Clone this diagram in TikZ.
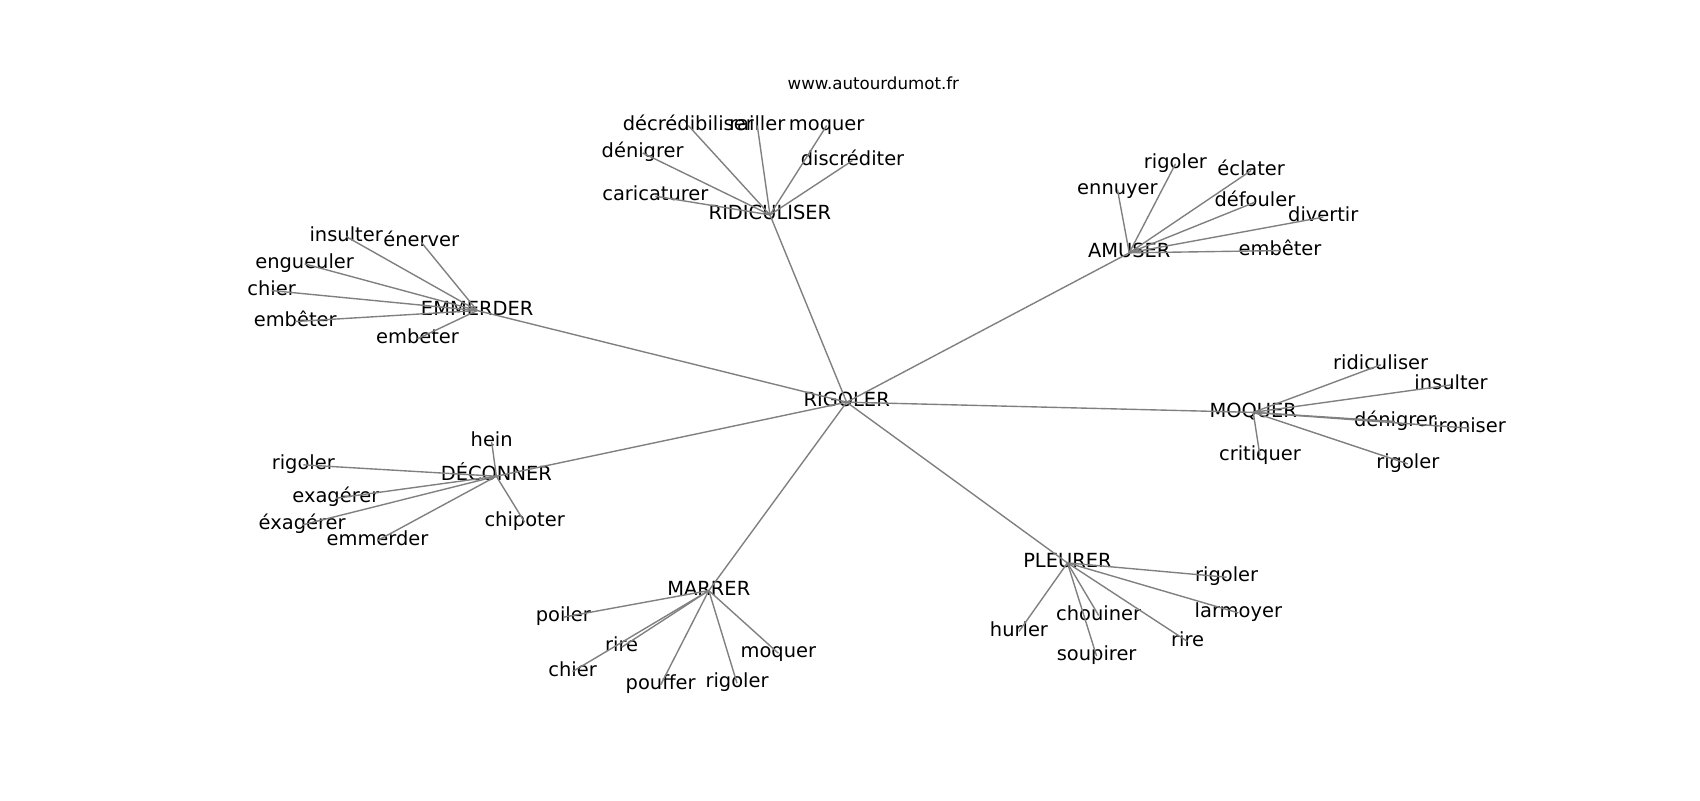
\documentclass[tikz,border=0pt]{standalone}
\usepackage{fontspec}
\setmainfont{DejaVu Sans}
\begin{document}
\begin{tikzpicture}[x=0.7808pt,y=-0.7808pt,
  lbl/.style={inner sep=0pt,anchor=center,text height=10pt,text depth=3.22pt,yshift=-1.6pt,font=\fontsize{14}{16}\selectfont},
  ttl/.style={inner sep=0pt,anchor=center,font=\fontsize{12}{14}\selectfont},
  edge/.style={draw=black!50,line width=1pt}]
\useasboundingbox[fill=white] (0,0) rectangle (1567.6,737.7);
\node[ttl] (title) at (805.3,76.8) {www.autourdumot.fr};
% hubs
\node[lbl] (rig) at (780.7,368.8) {RIGOLER};
\node[lbl] (rid) at (710,196.1) {RIDICULISER};
\node[lbl] (emm) at (440,284.3) {EMMERDER};
\node[lbl] (amu) at (1041.3,231.1) {AMUSER};
\node[lbl] (moq) at (1155.6,378.2) {MOQUER};
\node[lbl] (dec) at (457.7,437.1) {DÉCONNER};
\node[lbl] (mar) at (653.6,542.5) {MARRER};
\node[lbl] (ple) at (984.3,517) {PLEURER};
% ridiculiser leaves
\node[lbl] (r1) at (634.7,113.7) {décrédibiliser};
\node[lbl] (r2) at (698.3,113.7) {railler};
\node[lbl] (r3) at (762.3,113.7) {moquer};
\node[lbl] (r4) at (592.6,139) {dénigrer};
\node[lbl] (r5) at (786.1,146) {discréditer};
\node[lbl] (r6) at (604.3,178.9) {caricaturer};
% emmerder leaves
\node[lbl] (e1) at (319.2,216.1) {insulter};
\node[lbl] (e2) at (388.4,221.3) {énerver};
\node[lbl] (e3) at (280.9,241.3) {engueuler};
\node[lbl] (e4) at (250.5,265.9) {chier};
\node[lbl] (e5) at (272.2,294.4) {embêter};
\node[lbl] (e6) at (385,310.4) {embeter};
% amuser leaves
\node[lbl] (a1) at (1083.9,149.1) {rigoler};
\node[lbl] (a2) at (1153.7,155.2) {éclater};
\node[lbl] (a3) at (1030.4,172.7) {ennuyer};
\node[lbl] (a4) at (1157.2,184.4) {défouler};
\node[lbl] (a5) at (1220.2,198.2) {divertir};
\node[lbl] (a6) at (1180.3,229) {embêter};
% moquer leaves
\node[lbl] (m1) at (1273.1,334.4) {ridiculiser};
\node[lbl] (m2) at (1338,352.9) {insulter};
\node[lbl] (m3) at (1286.3,386.6) {dénigrer};
\node[lbl] (m4) at (1355,392.8) {ironiser};
\node[lbl] (m5) at (1161.8,418) {critiquer};
\node[lbl] (m6) at (1298.1,425.7) {rigoler};
% deconner leaves
\node[lbl] (d1) at (453.4,405.7) {hein};
\node[lbl] (d2) at (279.7,426.6) {rigoler};
\node[lbl] (d3) at (309.7,457.4) {exagérer};
\node[lbl] (d4) at (278.6,482) {éxagérer};
\node[lbl] (d5) at (348.1,496.4) {emmerder};
\node[lbl] (d6) at (483.8,479.5) {chipoter};
% marrer leaves
\node[lbl] (k1) at (519.4,567.1) {poiler};
\node[lbl] (k2) at (573.2,594.8) {rire};
\node[lbl] (k3) at (528,617.2) {chier};
\node[lbl] (k4) at (609.2,629.5) {pouffer};
\node[lbl] (k5) at (679.6,627.9) {rigoler};
\node[lbl] (k6) at (717.7,600.3) {moquer};
% pleurer leaves
\node[lbl] (p1) at (1131.1,530.2) {rigoler};
\node[lbl] (p2) at (1141.9,563.1) {larmoyer};
\node[lbl] (p3) at (939.6,580.3) {hurler};
\node[lbl] (p4) at (1013.1,565.5) {chouiner};
\node[lbl] (p5) at (1011.2,603) {soupirer};
\node[lbl] (p6) at (1095.1,589.5) {rire};
% edges
\foreach \h in {rid,emm,amu,moq,dec,mar,ple}
  \path[edge] (rig.center) -- (\h.center);
\foreach \l in {r1,r2,r3,r4,r5,r6}
  \path[edge] (rid.center) -- (\l.center);
\foreach \l in {e1,e2,e3,e4,e5,e6}
  \path[edge] (emm.center) -- (\l.center);
\foreach \l in {a1,a2,a3,a4,a5,a6}
  \path[edge] (amu.center) -- (\l.center);
\foreach \l in {m1,m2,m3,m4,m5,m6}
  \path[edge] (moq.center) -- (\l.center);
\foreach \l in {d1,d2,d3,d4,d5,d6}
  \path[edge] (dec.center) -- (\l.center);
\foreach \l in {k1,k2,k3,k4,k5,k6}
  \path[edge] (mar.center) -- (\l.center);
\foreach \l in {p1,p2,p3,p4,p5,p6}
  \path[edge] (ple.center) -- (\l.center);
\end{tikzpicture}
\end{document}
